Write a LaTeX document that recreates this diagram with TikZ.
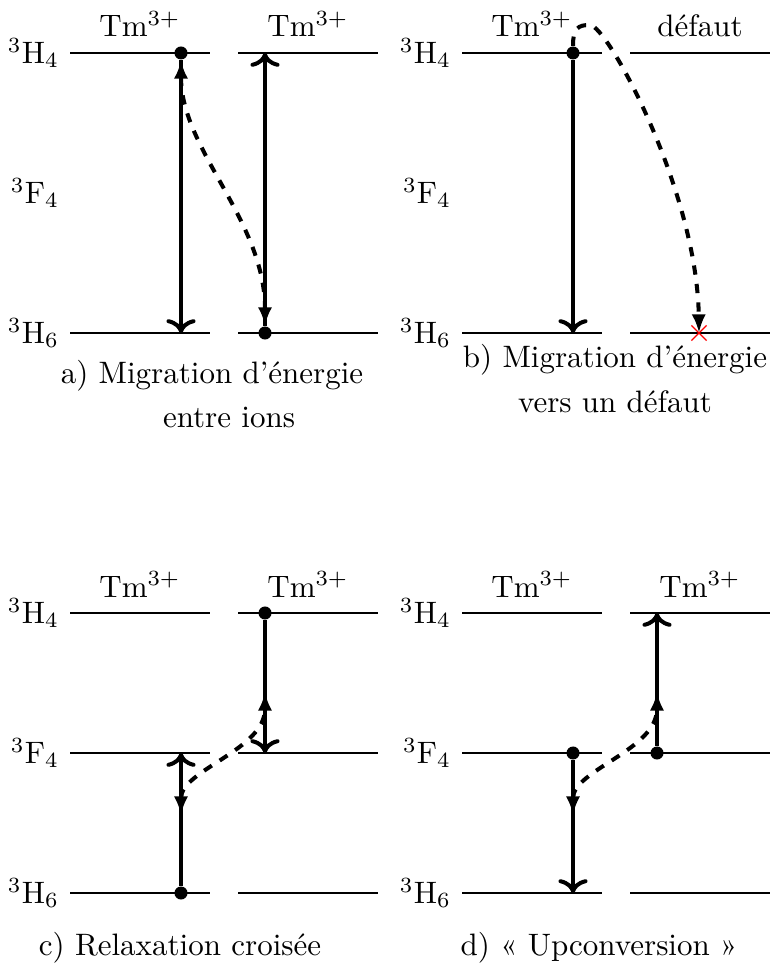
\documentclass[tikz,border=0pt]{standalone}
\usepackage{fontspec}
\usetikzlibrary{arrows.meta,shapes.misc}

\tikzset{
  level/.style={line width=0.4pt},
  trans/.style={line width=1.3pt,->},
  transfer/.style={line width=1.3pt,dashed,{Latex[length=6pt,width=4.6pt]}-{Latex[length=6pt,width=4.6pt]}},
  todefect/.style={line width=1.3pt,dashed,-{Latex[length=6pt,width=4.6pt]}},
  dot/.style={circle,fill,inner sep=0pt,minimum size=4.2pt},
  ion/.style={anchor=base},
  caption/.style={anchor=base}
}

\begin{document}
\begin{tikzpicture}[x=0.3226pt,y=-0.3226pt]
\useasboundingbox (0,0) rectangle (772,963);

% a) migration entre ions
\foreach \y in {53,333} \draw[level] (70,\y) -- (210,\y) (238,\y) -- (378,\y);
\node[left] (aH4) at (70,53) {$^3$H$_4$};
\node[left] (aF4) at (70,193) {$^3$F$_4$};
\node[left] (aH6) at (70,333) {$^3$H$_6$};
\node[ion] (aTm1) at (140,37) {Tm$^{3+}$};
\node[ion] (aTm2) at (308,37) {Tm$^{3+}$};
\node[dot] (a1) at (181,53) {};
\node[dot] (a2) at (265,333) {};
\coordinate (a1e) at (181,333);
\coordinate (a2e) at (265,53);
\draw[trans] (a1) -- (a1e);
\draw[trans] (a2) -- (a2e);
\draw[transfer] (a1.south) .. controls (181,150) and (265,220) .. (a2.north);
\node[caption] (acap1) at (212,384) {a) Migration d'énergie};
\node[caption] (acap2) at (229,428) {entre ions};

% b) migration vers un defaut
\begin{scope}[shift={(392,0)}]
\foreach \y in {53,333} \draw[level] (70,\y) -- (210,\y) (238,\y) -- (378,\y);
\node[left] (bH4) at (70,53) {$^3$H$_4$};
\node[left] (bF4) at (70,193) {$^3$F$_4$};
\node[left] (bH6) at (70,333) {$^3$H$_6$};
\node[ion] (bTm) at (140,37) {Tm$^{3+}$};
\node[ion] (bdef) at (308,37) {défaut};
\node[dot] (b1) at (181,53) {};
\coordinate (b1e) at (181,333);
\coordinate (bx) at (307,333);
\node[cross out,draw=red,line width=0.4pt,minimum size=4.5pt,inner sep=0pt] (bcross) at (bx) {};
\draw[trans] (b1) -- (b1e);
\draw[todefect] (b1.north) .. controls (181,28) and (186,25) .. (198,25)
  .. controls (215,25) and (305,190) .. (bx);
\node[caption] (bcap1) at (223,368) {b) Migration d'énergie};
\node[caption] (bcap2) at (223,413) {vers un défaut};
\end{scope}

% c) relaxation croisee
\begin{scope}[shift={(0,560)}]
\foreach \y in {53,193,333} \draw[level] (70,\y) -- (210,\y) (238,\y) -- (378,\y);
\node[left] (cH4) at (70,53) {$^3$H$_4$};
\node[left] (cF4) at (70,193) {$^3$F$_4$};
\node[left] (cH6) at (70,333) {$^3$H$_6$};
\node[ion] (cTm1) at (140,37) {Tm$^{3+}$};
\node[ion] (cTm2) at (308,37) {Tm$^{3+}$};
\node[dot] (c1) at (181,333) {};
\node[dot] (c2) at (265,53) {};
\coordinate (c1e) at (181,193);
\coordinate (c2e) at (265,193);
\coordinate (cs) at (181,255);
\coordinate (ct) at (265,132);
\draw[trans] (c1) -- (c1e);
\draw[trans] (c2) -- (c2e);
\draw[transfer] (cs) .. controls (181,210) and (265,190) .. (ct);
\node[caption] (ccap) at (180,395) {c) Relaxation croisée};
\end{scope}

% d) upconversion
\begin{scope}[shift={(392,560)}]
\foreach \y in {53,193,333} \draw[level] (70,\y) -- (210,\y) (238,\y) -- (378,\y);
\node[left] (dH4) at (70,53) {$^3$H$_4$};
\node[left] (dF4) at (70,193) {$^3$F$_4$};
\node[left] (dH6) at (70,333) {$^3$H$_6$};
\node[ion] (dTm1) at (140,37) {Tm$^{3+}$};
\node[ion] (dTm2) at (308,37) {Tm$^{3+}$};
\node[dot] (d1) at (181,193) {};
\node[dot] (d2) at (265,193) {};
\coordinate (d1e) at (181,333);
\coordinate (d2e) at (265,53);
\coordinate (ds) at (181,255);
\coordinate (dt) at (265,132);
\draw[trans] (d1) -- (d1e);
\draw[trans] (d2) -- (d2e);
\draw[transfer] (ds) .. controls (181,210) and (265,190) .. (dt);
\node[caption] (dcap) at (207,395) {d) « Upconversion »};
\end{scope}
\end{tikzpicture}
\end{document}
